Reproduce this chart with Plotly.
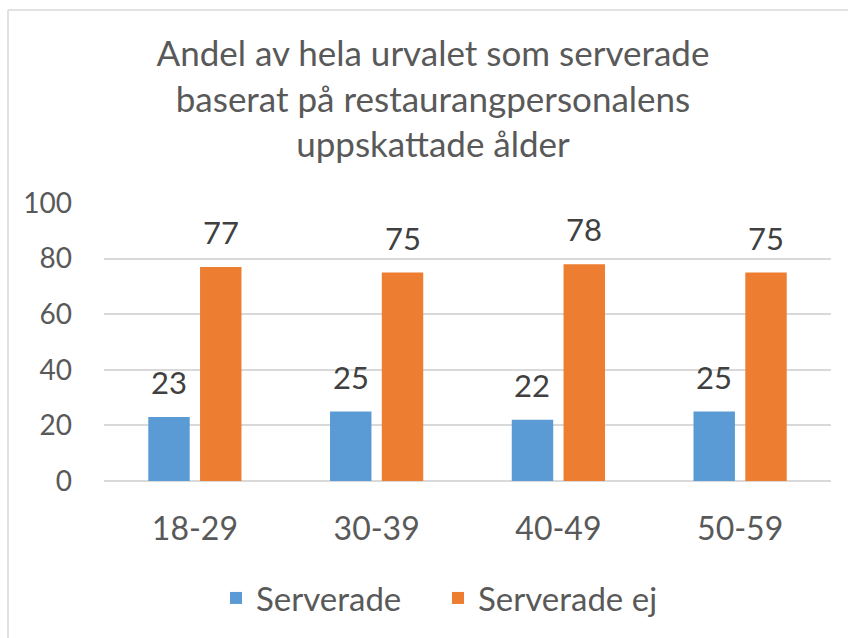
import plotly.graph_objects as go

categories = ["18-29", "30-39", "40-49", "50-59"]
serverade = [23, 25, 22, 25]
serverade_ej = [77, 75, 78, 75]
series_names = ["Serverade", "Serverade ej"]
title_text = "Andel av hela urvalet som serverade<br>baserat på restaurangpersonalens<br>uppskattade ålder"
y_ticks = [0, 20, 40, 60, 80, 100]

FONT = "Lato, Open Sans, sans-serif"
W, H = 848, 638
L, R, T, B = 104, 17, 203, 157
COLORS = ["#5b9bd5", "#ed7d31"]

fig = go.Figure()
for name, vals, col in zip(series_names, [serverade, serverade_ej], COLORS):
    fig.add_trace(go.Bar(
        x=categories, y=vals, name=name,
        marker=dict(color=col, line=dict(width=0)),
    ))

# data labels above bars
annotations = []
slot_half = 25.9
for k, vals in enumerate([serverade, serverade_ej]):
    shift = -slot_half if k == 0 else slot_half
    for c, v in zip(categories, vals):
        annotations.append(dict(
            x=c, y=v, xref="x", yref="y", text=str(v), showarrow=False,
            xshift=shift, yshift=14, yanchor="bottom", xanchor="center",
            font=dict(size=31, color="#404040", family=FONT),
        ))

pw = W - L - R
ph = H - T - B
def px2x(p):
    return (p - L) / pw
def py2y(p):
    return (H - B - p) / ph

shapes = [
    dict(type="line", xref="paper", yref="paper", x0=px2x(8), x1=px2x(W + 5),
         y0=py2y(10), y1=py2y(10), line=dict(color="#d9d9d9", width=1.5)),
    dict(type="line", xref="paper", yref="paper", x0=px2x(8), x1=px2x(8),
         y0=py2y(10), y1=py2y(H + 5), line=dict(color="#d9d9d9", width=1.5)),
]

fig.update_layout(
    width=W, height=H,
    margin=dict(l=L, r=R, t=T, b=B, autoexpand=False),
    paper_bgcolor="white", plot_bgcolor="white",
    font=dict(family=FONT, color="#595959"),
    title=dict(text=title_text, x=433 / W, xanchor="center", xref="container",
               y=1 - 66 / H, yanchor="top", yref="container",
               font=dict(size=35, color="#595959", family=FONT)),
    barmode="group", bargap=0.43, bargroupgap=0.2,
    showlegend=True,
    legend=dict(orientation="h", x=px2x(438), xanchor="center", y=py2y(598), yanchor="middle",
                font=dict(size=33, color="#595959", family=FONT), itemwidth=30,
                entrywidth=177, traceorder="normal"),
    shapes=shapes,
    annotations=annotations,
    xaxis=dict(showgrid=False, showline=False, ticks="", ticklabelstandoff=26,
               tickfont=dict(size=32, color="#595959", family=FONT)),
    yaxis=dict(range=[0, 100], tickvals=y_ticks, showgrid=True, gridcolor="#d9d9d9", gridwidth=1.5,
               zeroline=True, zerolinecolor="#d9d9d9", zerolinewidth=1.5,
               showline=False, ticks="", ticklabelstandoff=31,
               tickfont=dict(size=28, color="#595959", family=FONT)),
)

fig.write_html("out.html", config={"displayModeBar": False},
               post_script="document.body.style.margin='0';document.body.style.overflow='hidden';")
